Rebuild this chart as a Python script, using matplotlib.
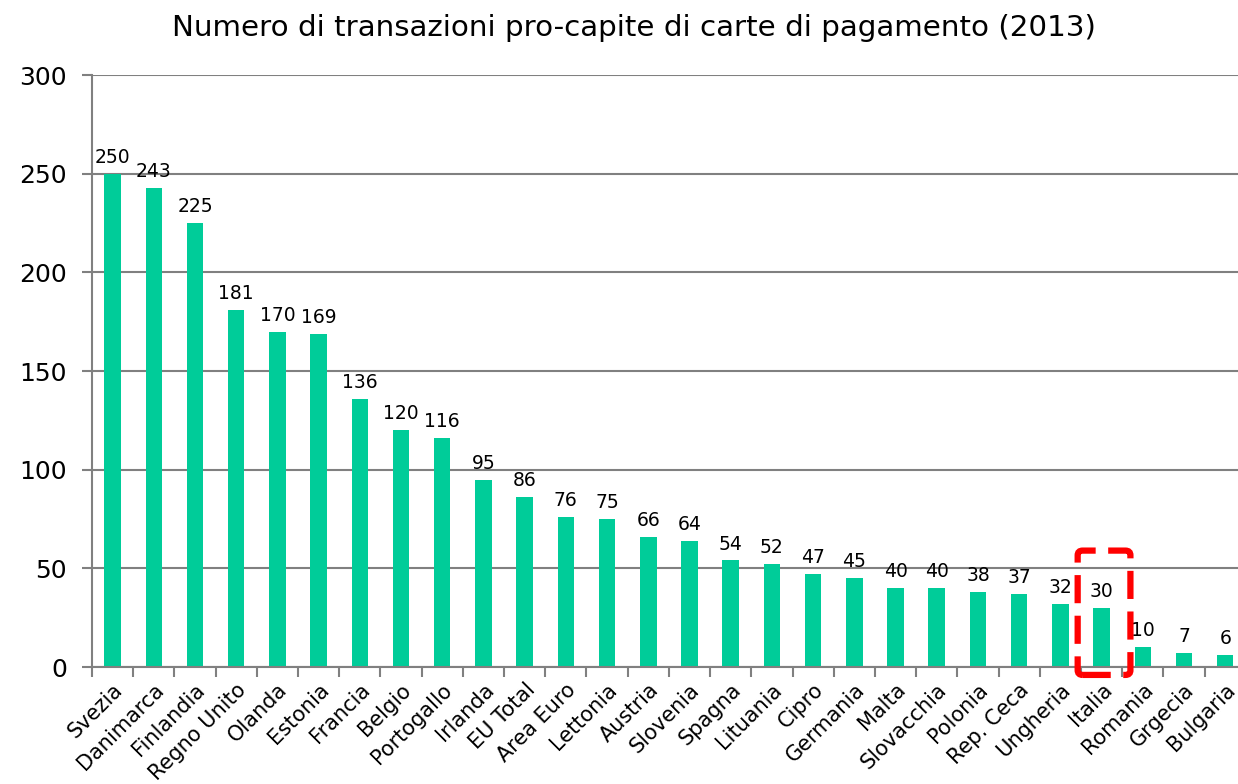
import matplotlib.pyplot as plt
from matplotlib.patches import FancyBboxPatch
import numpy as np

paesi = ['Svezia', 'Danimarca', 'Finlandia', 'Regno Unito', 'Olanda', 'Estonia',
         'Francia', 'Belgio', 'Portogallo', 'Irlanda', 'EU Total', 'Area Euro',
         'Lettonia', 'Austria', 'Slovenia', 'Spagna', 'Lituania', 'Cipro',
         'Germania', 'Malta', 'Slovacchia', 'Polonia', 'Rep. Ceca', 'Ungheria',
         'Italia', 'Romania', 'Grgecia', 'Bulgaria']
transazioni = [250, 243, 225, 181, 170, 169, 136, 120, 116, 95, 86, 76, 75, 66,
               64, 54, 52, 47, 45, 40, 40, 38, 37, 32, 30, 10, 7, 6]

fig = plt.figure(figsize=(12.38, 7.84), dpi=100)
# l'asse prosegue oltre il bordo destro come nell'originale
ax = fig.add_axes([0.0743, 0.1492, 0.932, 0.7551])

x = np.arange(len(paesi))
ax.bar(x, transazioni, width=0.4, color='#00CC99', zorder=3)

# etichette sopra le barre
for xi, v in zip(x, transazioni):
    ax.annotate(str(v), (xi, v), xytext=(0, 5), textcoords='offset points',
                ha='center', va='bottom', fontsize=13.5, color='black')

ax.set_xlim(-0.5, len(paesi) - 0.5)
ax.set_ylim(0, 300)
ax.set_yticks(np.arange(0, 301, 50))
ax.tick_params(axis='y', labelsize=18, colors='#808080', labelcolor='black',
               length=7, width=1.5, pad=11)
ax.set_xticks(x)
ax.set_xticklabels(paesi, rotation=45, ha='right', rotation_mode='anchor',
                   fontsize=15)
ax.tick_params(axis='x', length=0, pad=9)
# tacche tra le categorie
ax.set_xticks(np.arange(-0.5, len(paesi), 1), minor=True)
ax.tick_params(axis='x', which='minor', length=7, width=1.5, colors='#808080')

ax.grid(axis='y', color='#808080', linewidth=1.5, zorder=0)
for s in ['top', 'right']:
    ax.spines[s].set_visible(False)
for s in ['left', 'bottom']:
    ax.spines[s].set_color('#808080')
    ax.spines[s].set_linewidth(1.5)
    ax.spines[s].set_zorder(4)

fig.text(0.512, 1 - 28 / 784,
         'Numero di transazioni pro-capite di carte di pagamento (2013)',
         fontsize=21.2, ha='center', va='center')

# riquadro rosso su Italia
box = FancyBboxPatch((23.42, -4), 1.28, 63, boxstyle='round,pad=0,rounding_size=0.12',
                     fill=False, edgecolor='#FF0000', linewidth=4.5,
                     linestyle=(0, (4.5, 2)), clip_on=False, zorder=5,
                     mutation_aspect=20)
ax.add_patch(box)

fig.savefig('out.png', dpi=100)
